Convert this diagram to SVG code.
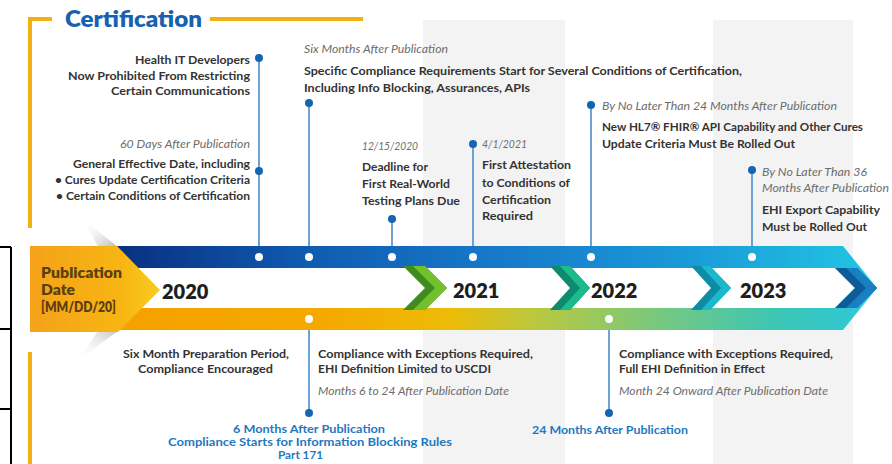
<svg xmlns="http://www.w3.org/2000/svg" width="892" height="464" viewBox="0 0 892 464">
<defs>
<style>
text{font-family:Lato,"Liberation Sans",sans-serif}
.b{font-size:12px;font-weight:700;fill:#333}
.i{font-size:12px;font-style:italic;fill:#6d6d6d}
.bl{font-size:11px;font-weight:700;fill:#1f78c1}
.yr{font-size:20px;font-weight:800;fill:#1e1e1e}
.pd{font-size:14px;font-weight:800;fill:#5b3f10}
.ln{stroke:#4a8ccc;stroke-width:1.6;fill:none}
.bd{fill:#1565b0}
.wd{fill:#fff}
.yl{stroke:#f2b111;stroke-width:4;fill:none}
.bk{stroke:#000;stroke-width:2;fill:none}
</style>
<linearGradient id="gTop" gradientUnits="userSpaceOnUse" x1="115" y1="0" x2="877" y2="0">
<stop offset="0" stop-color="#0a2f80"/>
<stop offset="0.25" stop-color="#0f5bb0"/>
<stop offset="0.5" stop-color="#1779c9"/>
<stop offset="0.75" stop-color="#1a9ad8"/>
<stop offset="1" stop-color="#22c6e2"/>
</linearGradient>
<linearGradient id="gBot" gradientUnits="userSpaceOnUse" x1="30" y1="0" x2="877" y2="0">
<stop offset="0" stop-color="#f59e00"/>
<stop offset="0.35" stop-color="#f5a900"/>
<stop offset="0.5" stop-color="#ecbc08"/>
<stop offset="0.6" stop-color="#b8c840"/>
<stop offset="0.75" stop-color="#74c882"/>
<stop offset="0.88" stop-color="#3cc6b4"/>
<stop offset="1" stop-color="#2ec8dc"/>
</linearGradient>
<linearGradient id="gPub" x1="0" y1="0" x2="1" y2="0">
<stop offset="0" stop-color="#f5a21a"/>
<stop offset="0.7" stop-color="#f7b512"/>
<stop offset="1" stop-color="#f8cc22"/>
</linearGradient>
<linearGradient id="gSh" x1="0" y1="0" x2="1" y2="1">
<stop offset="0" stop-color="#ffffff" stop-opacity="0"/>
<stop offset="1" stop-color="#b8b8b8"/>
</linearGradient>
<linearGradient id="gSh2" x1="0" y1="1" x2="1" y2="0">
<stop offset="0" stop-color="#ffffff" stop-opacity="0"/>
<stop offset="1" stop-color="#c4c4c4"/>
</linearGradient>
</defs>

<g id="background">
<rect x="423" y="20" width="142" height="444" fill="#f3f3f3"/>
<rect x="713" y="20" width="140" height="444" fill="#f3f3f3"/>
</g>

<g id="frame">
<path class="bk" d="M11,247 V464 M0,247 H11 M0,329 H11 M0,409 H11"/>
<path class="yl" d="M52,19 H30 V228"/>
<path class="yl" d="M210,19 H363"/>
<path class="yl" d="M30,352 V464"/>
<text x="65" y="27" style="font-size:22px;font-weight:800;fill:#1762b0" textLength="137" lengthAdjust="spacingAndGlyphs">Certification</text>
</g>

<g id="timeline">
<polygon points="84,220 118,247 98,247" fill="url(#gSh)"/>
<polygon points="78,360 118,331 98,331" fill="url(#gSh2)"/>
<polygon points="110,246 843,246 877,288 110,288" fill="url(#gTop)"/>
<polygon points="30,288 877,288 843,330 30,330" fill="url(#gBot)"/>
<polygon points="120,268 835,268 855,288 835,308 120,308" fill="#fff"/>
<polygon points="30,246 117,246 160,290 118,332 30,332" fill="url(#gPub)"/>
<g id="chev1">
<polygon points="403,266 425,266 447,288 425,310 403,310 425,288" fill="#3e8c1c"/>
<polygon points="413,266 425,266 447,288 425,310 413,310 435,288" fill="#72c02c"/>
</g>
<g id="chev2">
<polygon points="550,266 570,266 590,288 570,310 550,310 570,288" fill="#0e8a6e"/>
<polygon points="560,266 570,266 590,288 570,310 560,310 580,288" fill="#1dbb8c"/>
</g>
<g id="chev3">
<polygon points="691,266 710,266 731,288 710,310 691,310 711,288" fill="#0e8ca6"/>
<polygon points="701,266 710,266 731,288 710,310 701,310 721,288" fill="#1cb8cc"/>
</g>
<g id="chev4">
<polygon points="835,268 857,268 877,288 857,308 835,308 855,288" fill="#0b5c98"/>
<polygon points="846,268 857,268 877,288 857,308 846,308 866,288" fill="#1a80c4"/>
</g>
<text class="pd" x="41" y="278" textLength="81" lengthAdjust="spacingAndGlyphs">Publication</text>
<text class="pd" x="41" y="295" textLength="34" lengthAdjust="spacingAndGlyphs">Date</text>
<text class="pd" x="41" y="312" textLength="75" lengthAdjust="spacingAndGlyphs">[MM/DD/20]</text>
<text class="yr" x="162" y="299">2020</text>
<text class="yr" x="453" y="298">2021</text>
<text class="yr" x="591" y="298">2022</text>
<text class="yr" x="740" y="298">2023</text>
</g>

<g id="connectors">
<line class="ln" x1="259" y1="58" x2="259" y2="246"/>
<line class="ln" x1="309" y1="103" x2="309" y2="246"/>
<line class="ln" x1="392" y1="219" x2="392" y2="246"/>
<line class="ln" x1="473" y1="144" x2="473" y2="246"/>
<line class="ln" x1="591" y1="105" x2="591" y2="246"/>
<line class="ln" x1="752" y1="170" x2="752" y2="246"/>
<line class="ln" x1="309" y1="330" x2="309" y2="413"/>
<line class="ln" x1="609" y1="330" x2="609" y2="413"/>
</g>

<g id="dots">
<circle class="wd" cx="259" cy="257" r="4"/>
<circle class="wd" cx="309" cy="257" r="4"/>
<circle class="wd" cx="392" cy="257" r="4"/>
<circle class="wd" cx="473" cy="257" r="4"/>
<circle class="wd" cx="591" cy="257" r="4"/>
<circle class="wd" cx="752" cy="257" r="4"/>
<circle class="wd" cx="309" cy="319" r="4"/>
<circle class="wd" cx="609" cy="319" r="4"/>
</g>

<g id="node-health-it">
<circle class="bd" cx="259" cy="58" r="4"/>
<text class="b" x="135" y="64" textLength="115" lengthAdjust="spacingAndGlyphs">Health IT Developers</text>
<text class="b" x="68" y="80" textLength="182" lengthAdjust="spacingAndGlyphs">Now Prohibited From Restricting</text>
<text class="b" x="111" y="95" textLength="139" lengthAdjust="spacingAndGlyphs">Certain Communications</text>
</g>

<g id="node-60days">
<circle class="bd" cx="259" cy="171" r="4"/>
<text class="i" x="120" y="148" textLength="130" lengthAdjust="spacingAndGlyphs">60 Days After Publication</text>
<text class="b" x="73" y="168" textLength="177" lengthAdjust="spacingAndGlyphs">General Effective Date, including</text>
<text class="b" x="55" y="184" textLength="195" lengthAdjust="spacingAndGlyphs">• Cures Update Certification Criteria</text>
<text class="b" x="56" y="200" textLength="194" lengthAdjust="spacingAndGlyphs">• Certain Conditions of Certification</text>
</g>

<g id="node-six-months">
<circle class="bd" cx="309" cy="103" r="4"/>
<text class="i" x="304" y="53" textLength="144" lengthAdjust="spacingAndGlyphs">Six Months After Publication</text>
<text class="b" x="304" y="75" textLength="438" lengthAdjust="spacingAndGlyphs">Specific Compliance Requirements Start for Several Conditions of Certification,</text>
<text class="b" x="304" y="92" textLength="226" lengthAdjust="spacingAndGlyphs">Including Info Blocking, Assurances, APIs</text>
</g>

<g id="node-rwt">
<circle class="bd" cx="392" cy="219" r="4"/>
<text class="i" x="362" y="150" textLength="56" lengthAdjust="spacingAndGlyphs">12/15/2020</text>
<text class="b" x="362" y="171" textLength="66" lengthAdjust="spacingAndGlyphs">Deadline for</text>
<text class="b" x="362" y="188" textLength="88" lengthAdjust="spacingAndGlyphs">First Real-World</text>
<text class="b" x="362" y="205" textLength="98" lengthAdjust="spacingAndGlyphs">Testing Plans Due</text>
</g>

<g id="node-attestation">
<circle class="bd" cx="473" cy="144" r="4"/>
<text class="i" x="482" y="148" textLength="45" lengthAdjust="spacingAndGlyphs">4/1/2021</text>
<text class="b" x="482" y="169" textLength="89" lengthAdjust="spacingAndGlyphs">First Attestation</text>
<text class="b" x="482" y="187" textLength="88" lengthAdjust="spacingAndGlyphs">to Conditions of</text>
<text class="b" x="482" y="204" textLength="69" lengthAdjust="spacingAndGlyphs">Certification</text>
<text class="b" x="482" y="220" textLength="51" lengthAdjust="spacingAndGlyphs">Required</text>
</g>

<g id="node-fhir">
<circle class="bd" cx="591" cy="105" r="4"/>
<text class="i" x="602" y="110" textLength="235" lengthAdjust="spacingAndGlyphs">By No Later Than 24 Months After Publication</text>
<text class="b" x="602" y="131" textLength="261" lengthAdjust="spacingAndGlyphs">New HL7® FHIR® API Capability and Other Cures</text>
<text class="b" x="602" y="148" textLength="193" lengthAdjust="spacingAndGlyphs">Update Criteria Must Be Rolled Out</text>
</g>

<g id="node-ehi-export">
<circle class="bd" cx="752" cy="170" r="4"/>
<text class="i" x="762" y="176" textLength="105" lengthAdjust="spacingAndGlyphs">By No Later Than 36</text>
<text class="i" x="762" y="192" textLength="127" lengthAdjust="spacingAndGlyphs">Months After Publication</text>
<text class="b" x="762" y="214" textLength="118" lengthAdjust="spacingAndGlyphs">EHI Export Capability</text>
<text class="b" x="762" y="231" textLength="105" lengthAdjust="spacingAndGlyphs">Must be Rolled Out</text>
</g>

<g id="node-preparation">
<text class="b" x="123" y="358" textLength="166" lengthAdjust="spacingAndGlyphs">Six Month Preparation Period,</text>
<text class="b" x="138" y="373" textLength="135" lengthAdjust="spacingAndGlyphs">Compliance Encouraged</text>
</g>

<g id="node-uscdi">
<text class="b" x="318" y="358" textLength="215" lengthAdjust="spacingAndGlyphs">Compliance with Exceptions Required,</text>
<text class="b" x="318" y="373" textLength="173" lengthAdjust="spacingAndGlyphs">EHI Definition Limited to USCDI</text>
<text class="i" x="318" y="395" textLength="191" lengthAdjust="spacingAndGlyphs">Months 6 to 24 After Publication Date</text>
</g>

<g id="node-6months-info-blocking">
<circle class="bd" cx="309" cy="413" r="4"/>
<text class="bl" x="233" y="433" textLength="152" lengthAdjust="spacingAndGlyphs">6 Months After Publication</text>
<text class="bl" x="168" y="446" textLength="284" lengthAdjust="spacingAndGlyphs">Compliance Starts for Information Blocking Rules</text>
<text class="bl" x="278" y="459" textLength="45" lengthAdjust="spacingAndGlyphs">Part 171</text>
</g>

<g id="node-full-ehi">
<text class="b" x="619" y="358" textLength="214" lengthAdjust="spacingAndGlyphs">Compliance with Exceptions Required,</text>
<text class="b" x="619" y="373" textLength="146" lengthAdjust="spacingAndGlyphs">Full EHI Definition in Effect</text>
<text class="i" x="619" y="395" textLength="209" lengthAdjust="spacingAndGlyphs">Month 24 Onward After Publication Date</text>
</g>

<g id="node-24months">
<circle class="bd" cx="609" cy="413" r="4"/>
<text class="bl" x="532" y="434" textLength="156" lengthAdjust="spacingAndGlyphs">24 Months After Publication</text>
</g>
</svg>
